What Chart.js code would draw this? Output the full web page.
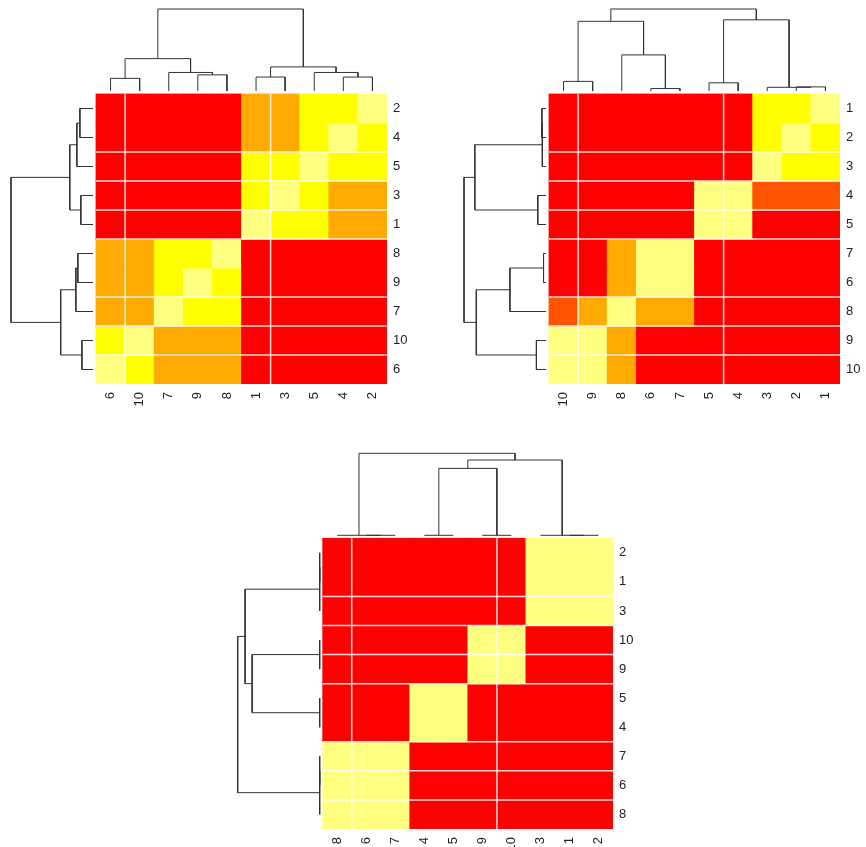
<!DOCTYPE html>
<html>
<head>
<meta charset="utf-8">
<title>Clustered similarity heatmaps</title>
<script src="https://cdn.jsdelivr.net/npm/chart.js@4.4.1/dist/chart.umd.min.js"></script>
<style>
  html, body { margin: 0; padding: 0; background: #ffffff; overflow: hidden; width: 866px; height: 847px; }
  canvas { position: absolute; }
</style>
</head>
<body>
<canvas id="panelA"></canvas>
<canvas id="panelB"></canvas>
<canvas id="panelC"></canvas>
<script>
// heat.colors(5): level 0 = red (least similar) ... level 4 = pale yellow (most similar)
const heatPalette = ['#FF0000', '#FF5500', '#FFAA00', '#FFFF00', '#FFFF80'];

// ---------- Panel A ----------
const colsA = ['6', '10', '7', '9', '8', '1', '3', '5', '4', '2'];
const rowsA = ['2', '4', '5', '3', '1', '8', '9', '7', '10', '6'];
const levelsA = [
  [0, 0, 0, 0, 0, 2, 2, 3, 3, 4],
  [0, 0, 0, 0, 0, 2, 2, 3, 4, 3],
  [0, 0, 0, 0, 0, 3, 3, 4, 3, 3],
  [0, 0, 0, 0, 0, 3, 4, 3, 2, 2],
  [0, 0, 0, 0, 0, 4, 3, 3, 2, 2],
  [2, 2, 3, 3, 4, 0, 0, 0, 0, 0],
  [2, 2, 3, 4, 3, 0, 0, 0, 0, 0],
  [2, 2, 4, 3, 3, 0, 0, 0, 0, 0],
  [3, 4, 2, 2, 2, 0, 0, 0, 0, 0],
  [4, 3, 2, 2, 2, 0, 0, 0, 0, 0]
];
// merges: [left, right, height]; -k = k-th leaf in display order, +k = k-th merge
const colTreeA = [[-1, -2, 0.154], [-4, -5, 0.197], [-3, 2, 0.226], [1, 3, 0.395],
                  [-6, -7, 0.17], [-9, -10, 0.17], [-8, 6, 0.226], [5, 7, 0.294], [4, 8, 1]];
const rowTreeA = [[-1, -2, 0.16], [1, -3, 0.197], [-4, -5, 0.148], [2, 3, 0.283],
                  [-6, -7, 0.185], [5, -8, 0.209], [-9, -10, 0.135], [6, 7, 0.394], [4, 8, 1]];

// ---------- Panel B ----------
const colsB = ['10', '9', '8', '6', '7', '5', '4', '3', '2', '1'];
const rowsB = ['1', '2', '3', '4', '5', '7', '6', '8', '9', '10'];
const levelsB = [
  [0, 0, 0, 0, 0, 0, 0, 3, 3, 4],
  [0, 0, 0, 0, 0, 0, 0, 3, 4, 3],
  [0, 0, 0, 0, 0, 0, 0, 4, 3, 3],
  [0, 0, 0, 0, 0, 4, 4, 1, 1, 1],
  [0, 0, 0, 0, 0, 4, 4, 0, 0, 0],
  [0, 0, 2, 4, 4, 0, 0, 0, 0, 0],
  [0, 0, 2, 4, 4, 0, 0, 0, 0, 0],
  [1, 2, 4, 2, 2, 0, 0, 0, 0, 0],
  [4, 4, 2, 0, 0, 0, 0, 0, 0, 0],
  [4, 4, 2, 0, 0, 0, 0, 0, 0, 0]
];
const colTreeB = [[-1, -2, 0.117], [-4, -5, 0.03], [-3, 2, 0.44], [1, 3, 0.85],
                  [-6, -7, 0.10], [-9, -10, 0.05], [-8, 6, 0.045], [5, 7, 0.868], [4, 8, 1]];
const rowTreeB = [[-1, -2, 0.05], [1, -3, 0.045], [-4, -5, 0.10], [2, 3, 0.868],
                  [-6, -7, 0.03], [5, -8, 0.44], [-9, -10, 0.117], [6, 7, 0.85], [4, 8, 1]];

// ---------- Panel C ----------
const colsC = ['8', '6', '7', '4', '5', '9', '10', '3', '1', '2'];
const rowsC = ['2', '1', '3', '10', '9', '5', '4', '7', '6', '8'];
const levelsC = [
  [0, 0, 0, 0, 0, 0, 0, 4, 4, 4],
  [0, 0, 0, 0, 0, 0, 0, 4, 4, 4],
  [0, 0, 0, 0, 0, 0, 0, 4, 4, 4],
  [0, 0, 0, 0, 0, 4, 4, 0, 0, 0],
  [0, 0, 0, 0, 0, 4, 4, 0, 0, 0],
  [0, 0, 0, 4, 4, 0, 0, 0, 0, 0],
  [0, 0, 0, 4, 4, 0, 0, 0, 0, 0],
  [4, 4, 4, 0, 0, 0, 0, 0, 0, 0],
  [4, 4, 4, 0, 0, 0, 0, 0, 0, 0],
  [4, 4, 4, 0, 0, 0, 0, 0, 0, 0]
];
const colTreeC = [[-2, -3, 0], [-1, 1, 0], [-4, -5, 0], [-6, -7, 0], [3, 4, 0.816],
                  [-9, -10, 0], [-8, 6, 0], [5, 7, 0.918], [2, 8, 1]];
const rowTreeC = [[-1, -2, 0], [1, -3, 0], [-4, -5, 0], [-6, -7, 0], [3, 4, 0.824],
                  [2, 5, 0.91], [-8, -9, 0], [7, -10, 0], [6, 8, 1]];

// light rendering seams between some cell rows / columns
const seamCols = [1, 6];
const seamRows = [2, 3, 4, 5, 7, 8, 9];

// ---------- layout ----------
const AXIS_W = 26;   // row label strip on the right
const AXIS_H = 30;   // column label strip underneath
const DENDRO_GAP = 3;
const DENDRO_SPAN = 82;
const labelFont = { family: '"Liberation Sans", Arial, Helvetica, sans-serif', size: 13 };
const labelColor = '#222222';

const panels = [
  { id: 'panelA', left: 0,   top: 0,   heat: { l: 96,    t: 94,    r: 387, b: 384 },
    cols: colsA, rows: rowsA, levels: levelsA, colTree: colTreeA, rowTree: rowTreeA },
  { id: 'panelB', left: 450, top: 0,   heat: { l: 549,   t: 94,    r: 840, b: 384 },
    cols: colsB, rows: rowsB, levels: levelsB, colTree: colTreeB, rowTree: rowTreeB },
  { id: 'panelC', left: 220, top: 440, heat: { l: 322.7, t: 538.3, r: 613, b: 829 },
    cols: colsC, rows: rowsC, levels: levelsC, colTree: colTreeC, rowTree: rowTreeC }
];

// Walk an hclust-style merge table and return the "n" shaped polylines
// as [leafPosition, height] pairs.
function dendroPaths(tree) {
  const pos = [], hgt = [];
  const node = k => (k < 0 ? { p: -k - 1, h: 0 } : { p: pos[k - 1], h: hgt[k - 1] });
  return tree.map(([a, b, h], i) => {
    const A = node(a), B = node(b);
    pos[i] = (A.p + B.p) / 2;
    hgt[i] = h;
    return [[A.p, A.h], [A.p, h], [B.p, h], [B.p, B.h]];
  });
}

function joinPaths(paths) {
  const out = [];
  paths.forEach(path => {
    path.forEach(pt => out.push(pt));
    const last = path[path.length - 1];
    out.push({ x: last.x, y: null });
  });
  return out;
}

function buildPanel(p) {
  const n = p.cols.length;
  const W = Math.round(p.heat.r - p.left + AXIS_W);
  const H = Math.round(p.heat.b - p.top + AXIS_H);
  const cellX = (p.heat.r - p.heat.l) / n;
  const cellY = (p.heat.b - p.heat.t) / n;
  const xMin = -0.5 - (p.heat.l - p.left) / cellX;
  const yMax = (n - 0.5) + (p.heat.t - p.top) / cellY;

  const canvas = document.getElementById(p.id);
  canvas.width = W; canvas.height = H;
  canvas.style.left = p.left + 'px'; canvas.style.top = p.top + 'px';
  canvas.style.width = W + 'px'; canvas.style.height = H + 'px';

  // heatmap cells: one floating-bar dataset per row
  const cellSets = p.rows.map((rowLabel, r) => ({
    type: 'bar',
    label: 'row ' + rowLabel,
    grouped: false,
    order: 3,
    data: p.cols.map((c, k) => ({ x: k, y: [n - 1 - r - 0.5, n - 1 - r + 0.5] })),
    backgroundColor: p.levels[r].map(v => heatPalette[v]),
    borderWidth: 0,
    barPercentage: 1,
    categoryPercentage: 1,
    inflateAmount: 0.4
  }));

  const lineBase = {
    type: 'line', borderColor: '#333333', borderWidth: 1, pointRadius: 0,
    pointHoverRadius: 0, fill: false, tension: 0, spanGaps: false, clip: false, order: 1
  };

  const colDendro = joinPaths(dendroPaths(p.colTree).map(path =>
    path.map(([pp, h]) => ({ x: pp, y: (n - 0.5) + (DENDRO_GAP + h * DENDRO_SPAN) / cellY }))));
  const rowDendro = joinPaths(dendroPaths(p.rowTree).map(path =>
    path.map(([pp, h]) => ({ x: -0.5 - (DENDRO_GAP + h * DENDRO_SPAN) / cellX, y: n - 1 - pp }))));

  const seamPaths = [];
  seamCols.forEach(k => seamPaths.push([{ x: k - 0.5, y: -0.5 }, { x: k - 0.5, y: n - 0.5 }]));
  seamRows.forEach(k => seamPaths.push([{ x: -0.5, y: n - 0.5 - k }, { x: n - 0.5, y: n - 0.5 - k }]));

  const datasets = [
    Object.assign({}, lineBase, { label: 'seams', data: joinPaths(seamPaths),
      borderColor: 'rgba(255,255,255,0.85)', borderWidth: 1.5, order: 0 }),
    Object.assign({}, lineBase, { label: 'column dendrogram', data: colDendro }),
    Object.assign({}, lineBase, { label: 'row dendrogram', data: rowDendro })
  ].concat(cellSets);

  new Chart(canvas, {
    type: 'bar',
    data: { datasets },
    options: {
      responsive: false,
      devicePixelRatio: 1,
      animation: false,
      events: [],
      layout: { padding: 0, autoPadding: false },
      plugins: { legend: { display: false }, tooltip: { enabled: false } },
      scales: {
        x: {
          type: 'linear', position: 'bottom', min: xMin, max: n - 0.5, offset: false,
          grid: { display: false, drawTicks: false }, border: { display: false },
          afterBuildTicks: s => { s.ticks = p.cols.map((c, k) => ({ value: k })); },
          afterFit: s => { s.height = AXIS_H; s.paddingLeft = 0; s.paddingRight = 0; },
          ticks: {
            autoSkip: false, minRotation: 90, maxRotation: 90, padding: 8,
            font: labelFont, color: labelColor,
            callback: v => p.cols[v]
          }
        },
        y: {
          type: 'linear', position: 'right', min: -0.5, max: yMax,
          grid: { display: false, drawTicks: false }, border: { display: false },
          afterBuildTicks: s => { s.ticks = p.rows.map((r, k) => ({ value: n - 1 - k })); },
          afterFit: s => { s.width = AXIS_W; s.paddingTop = 0; s.paddingBottom = 0; },
          ticks: {
            autoSkip: false, padding: 6, font: labelFont, color: labelColor,
            callback: v => p.rows[n - 1 - v]
          }
        }
      }
    }
  });
}

panels.forEach(buildPanel);
</script>
</body>
</html>
